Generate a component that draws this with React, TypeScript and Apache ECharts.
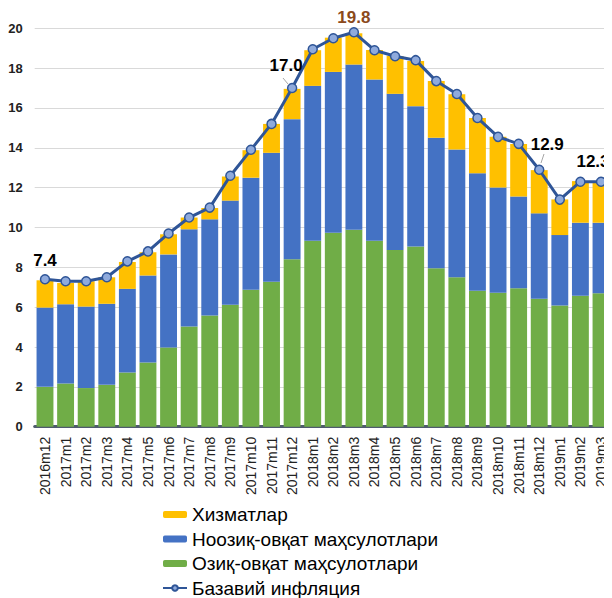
import React, { useEffect, useRef } from "react";
import * as echarts from "echarts";

const categories = [
  "2016m12", "2017m1", "2017m2", "2017m3", "2017m4", "2017m5", "2017m6", "2017m7",
  "2017m8", "2017m9", "2017m10", "2017m11", "2017m12", "2018m1", "2018m2", "2018m3",
  "2018m4", "2018m5", "2018m6", "2018m7", "2018m8", "2018m9", "2018m10", "2018m11",
  "2018m12", "2019m1", "2019m2", "2019m3",
];

const food = [2.0, 2.17, 1.94, 2.1, 2.72, 3.22, 3.98, 5.03, 5.58, 6.12, 6.87, 7.28, 8.4, 9.34, 9.74, 9.89, 9.34, 8.87, 9.04, 7.95, 7.5, 6.83, 6.72, 6.95, 6.42, 6.08, 6.58, 6.7];
const nonFood = [3.98, 3.98, 4.09, 4.07, 4.2, 4.37, 4.67, 4.88, 4.83, 5.23, 5.63, 6.47, 7.04, 7.77, 8.07, 8.29, 8.09, 7.84, 7.05, 6.55, 6.42, 5.89, 5.29, 4.6, 4.29, 3.54, 3.66, 3.54];
const services = [1.37, 1.07, 1.27, 1.33, 1.35, 1.17, 1.01, 0.59, 0.57, 1.21, 1.38, 1.45, 1.52, 1.79, 1.72, 1.57, 1.48, 1.9, 2.27, 2.86, 2.77, 2.78, 2.54, 2.64, 2.17, 1.79, 2.09, 2.02];
const coreInflation = [7.4, 7.3, 7.3, 7.5, 8.3, 8.8, 9.7, 10.5, 11.0, 12.6, 13.9, 15.2, 17.0, 18.95, 19.5, 19.8, 18.9, 18.6, 18.4, 17.35, 16.7, 15.5, 14.55, 14.2, 12.9, 11.4, 12.3, 12.3];

const names = {
  services: "Хизматлар",
  nonFood: "Ноозиқ-овқат маҳсулотлари",
  food: "Озиқ-овқат маҳсулотлари",
  core: "Базавий инфляция",
};

// labelled points: index -> [label text, dx, dy, color]
const labelled: Record<number, [string, number, number, string]> = {
  0: ["7.4", 0, -19, "#000"],
  12: ["17.0", -6, -23, "#000"],
  15: ["19.8", 0, -15, "#8B4A1C"],
  24: ["12.9", 8, -25, "#000"],
  27: ["12.3", -8, -20, "#000"],
};

const sans = "'Liberation Sans', Arial, sans-serif";

export default function App() {
  const ref = useRef<HTMLDivElement>(null);
  useEffect(() => {
    if (!ref.current) return;
    const chart = echarts.init(ref.current, undefined, { renderer: "svg" });
    const lineData = coreInflation.map((v, i) => {
      const l = labelled[i];
      if (!l) return v;
      return {
        value: v,
        label: {
          show: true,
          formatter: l[0],
          position: "inside",
          offset: [l[1], l[2]],
          color: l[3],
          fontSize: 17,
          fontWeight: "bold",
          fontFamily: sans,
        },
      };
    });
    const option: any = {
      animation: false,
      backgroundColor: "#fff",
      grid: { left: 34.7, right: 0.7, top: 28.3, bottom: 171.3, containLabel: false },
      legend: {
        orient: "vertical",
        left: 162,
        top: 505,
        height: 100,
        padding: 0,
        itemWidth: 24,
        itemHeight: 7,
        itemGap: 5.5,
        textStyle: { fontSize: 19, color: "#000", fontFamily: sans },
        data: [names.services, names.nonFood, names.food, names.core],
      },
      xAxis: {
        type: "category",
        data: categories,
        axisTick: { show: false },
        axisLine: { lineStyle: { color: "#4F5B6E", width: 3 } },
        axisLabel: {
          rotate: 90,
          interval: 0,
          margin: 10,
          fontSize: 14,
          color: "#222",
          fontFamily: sans,
        },
      },
      yAxis: {
        type: "value",
        min: 0,
        max: 20,
        interval: 2,
        axisLine: { show: false },
        axisTick: { show: false },
        splitLine: { lineStyle: { color: "#D9D9D9", width: 1 } },
        axisLabel: { fontSize: 13, color: "#222", margin: 12, fontFamily: sans, fontWeight: "bold" },
      },
      series: [
        {
          name: names.food,
          type: "bar",
          stack: "total",
          data: food,
          barCategoryGap: "18%",
          itemStyle: { color: "#70AD47" },
        },
        {
          name: names.nonFood,
          type: "bar",
          stack: "total",
          data: nonFood,
          itemStyle: { color: "#4472C4" },
        },
        {
          name: names.services,
          type: "bar",
          stack: "total",
          data: services,
          itemStyle: { color: "#FFC000" },
        },
        {
          name: names.core,
          type: "line",
          data: lineData,
          z: 5,
          symbol: "circle",
          symbolSize: 9,
          lineStyle: { color: "#2F5597", width: 3 },
          itemStyle: { color: "#8FAADC", borderColor: "#2F5597", borderWidth: 1.5 },
        },
      ],
      graphic: [
        { type: "line", shape: { x1: 283, y1: 78, x2: 288, y2: 84 }, style: { stroke: "#A6A6A6", lineWidth: 1 } },
        { type: "line", shape: { x1: 544, y1: 154, x2: 541, y2: 163 }, style: { stroke: "#A6A6A6", lineWidth: 1 } },
      ],
    };
    chart.setOption(option);
    return () => chart.dispose();
  }, []);
  return <div ref={ref} style={{ width: 612, height: 598, marginLeft: -8, marginTop: -8 }} />;
}
